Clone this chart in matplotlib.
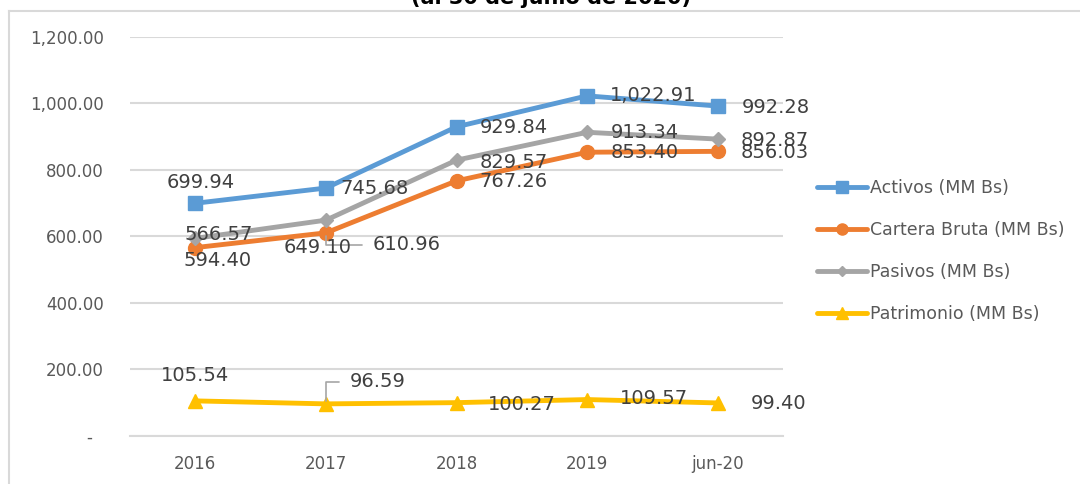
import numpy as np
import matplotlib.pyplot as plt
from matplotlib.lines import Line2D

# Data
categories = ["2016", "2017", "2018", "2019", "jun-20"]
activos = [699.94, 745.68, 929.84, 1022.91, 992.28]
cartera = [566.57, 610.96, 767.26, 853.40, 856.03]
pasivos = [594.40, 649.10, 829.57, 913.34, 892.87]
patrimonio = [105.54, 96.59, 100.27, 109.57, 99.40]

series_names = ["Activos (MM Bs)", "Cartera Bruta (MM Bs)", "Pasivos (MM Bs)", "Patrimonio (MM Bs)"]
colors = ["#5B9BD5", "#ED7D31", "#A5A5A5", "#FFC000"]
markers = ["s", "o", "D", "^"]
msizes = [10, 10, 7, 10]

# label offsets in pixels (dx, dy, ha) for each point, per series
label_offsets = [
    [(5, 21, "center"), (14, 0, "left"), (23, -1, "left"), (23, 0, "left"), (24, -1, "left")],
    [(23, 13, "center"), (47, -12, "left"), (23, -1, "left"), (24, 0, "left"), (23, -1, "left")],
    [(22, -22, "center"), (-8, -27, "center"), (23, -2, "left"), (24, 0, "left"), (23, -1, "left")],
    [(0, 25, "center"), (24, 22, "left"), (31, -2, "left"), (33, 1, "left"), (33, -1, "left")],
]
# points whose label has a leader line (series index, point index)
leaders = [(1, 1), (3, 1)]

label_color = "#404040"
axis_color = "#595959"
grid_color = "#D9D9D9"

fig = plt.figure(figsize=(10.8, 4.84), dpi=100)
ax = fig.add_axes([0.1204, 0.0992, 0.6046, 0.8244])

x = np.arange(len(categories))
all_series = [activos, cartera, pasivos, patrimonio]
for i, vals in enumerate(all_series):
    ax.plot(x, vals, color=colors[i], lw=3.5, marker=markers[i], ms=msizes[i],
            label=series_names[i], zorder=3, solid_capstyle="round")

for i, vals in enumerate(all_series):
    for j, v in enumerate(vals):
        dx, dy, ha = label_offsets[i][j]
        kw = {}
        if (i, j) in leaders:
            kw["arrowprops"] = dict(arrowstyle="-", color="#A5A5A5", lw=1.2,
                                    connectionstyle="angle,angleA=0,angleB=90,rad=0",
                                    relpos=(0, 0.5), shrinkA=6, shrinkB=2)
        ax.annotate(f"{v:,.2f}", (x[j], v), xytext=(dx, dy), textcoords="offset pixels",
                    ha=ha, va="center", fontsize=14, color=label_color, zorder=5, **kw)

ax.set_xlim(-0.5, len(categories) - 0.5)
ax.set_ylim(0, 1200)
ax.set_yticks(np.arange(0, 1201, 200))
ax.set_yticklabels(["-  " if t == 0 else f"{t:,.2f}" for t in np.arange(0, 1201, 200)])
ax.set_xticks(x)
ax.set_xticklabels(categories)
ax.tick_params(axis="both", length=0, labelsize=12, colors=axis_color)
ax.tick_params(axis="y", pad=19)
ax.tick_params(axis="x", pad=14)
ax.grid(axis="y", color=grid_color, lw=1.5)
ax.set_axisbelow(True)
for s in ["top", "right", "left"]:
    ax.spines[s].set_visible(False)
ax.spines["bottom"].set_color(grid_color)
ax.spines["bottom"].set_linewidth(1.5)

leg = fig.legend(loc="upper left", bbox_to_anchor=(0.742, 0.662), frameon=False,
                 fontsize=12.5, handlelength=2.9, handletextpad=0.15, labelspacing=1.38,
                 labelcolor=axis_color, markerscale=0.8)

# chart border and cut-off title
fig.add_artist(Line2D([9 / 1080, 1.02], [1 - 11 / 484, 1 - 11 / 484], color="#D9D9D9", lw=1.5))
fig.add_artist(Line2D([9 / 1080, 9 / 1080], [-0.02, 1 - 11 / 484], color="#D9D9D9", lw=1.5))
fig.text(551 / 1080, 1 - 4 / 484, "(al 30 de junio de 2020)", ha="center", va="baseline",
         fontsize=15, fontweight="bold", color="black")

fig.savefig("out.png", dpi=100)
